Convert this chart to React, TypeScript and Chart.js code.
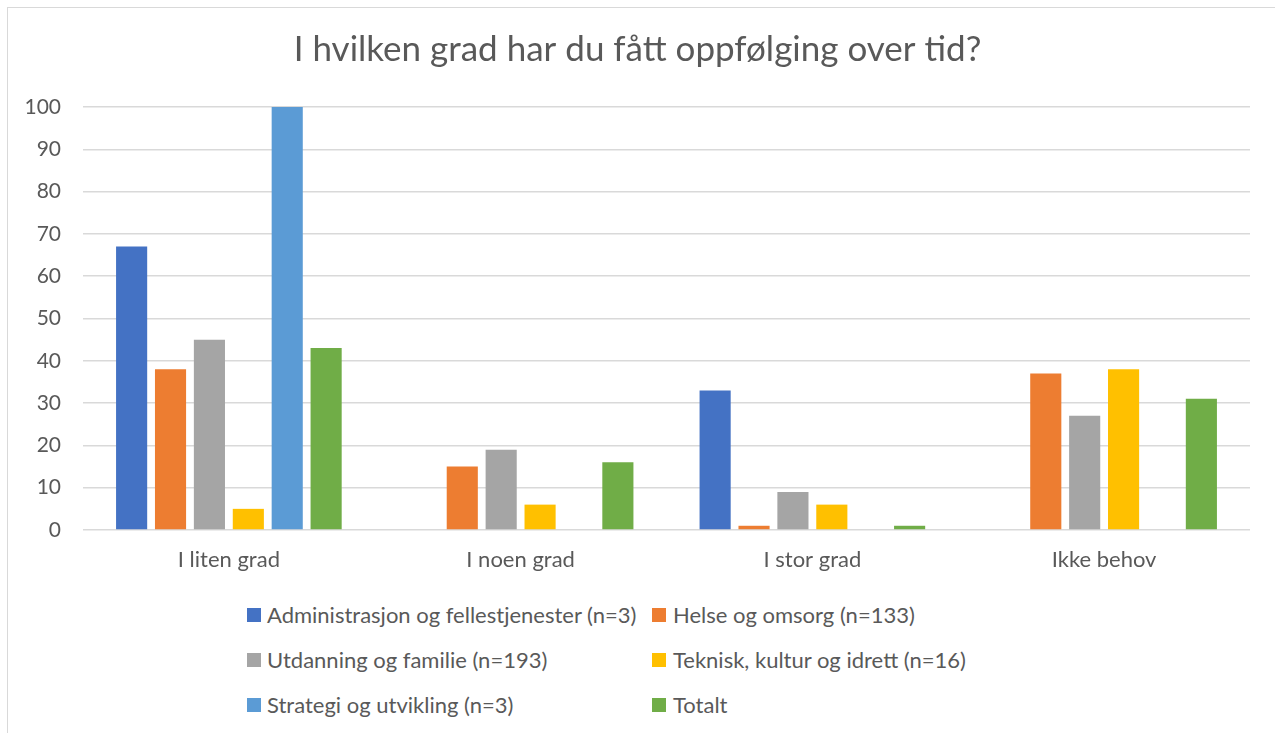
import React, { useEffect, useRef } from "react";
import { Chart, registerables } from "chart.js";

Chart.register(...registerables);

const title = "I hvilken grad har du fått oppfølging over tid?";
const categories = ["I liten grad", "I noen grad", "I stor grad", "Ikke behov"];
const seriesNames = [
  "Administrasjon og fellestjenester (n=3)",
  "Helse og omsorg (n=133)",
  "Utdanning og familie (n=193)",
  "Teknisk, kultur og idrett (n=16)",
  "Strategi og utvikling (n=3)",
  "Totalt",
];
const administrasjon = [67, 0, 33, 0];
const helse = [38, 15, 1, 37];
const utdanning = [45, 19, 9, 27];
const teknisk = [5, 6, 6, 38];
const strategi = [100, 0, 0, 0];
const totalt = [43, 16, 1, 31];
const seriesValues = [administrasjon, helse, utdanning, teknisk, strategi, totalt];
const seriesColors = ["#4472C4", "#ED7D31", "#A5A5A5", "#FFC000", "#5B9BD5", "#70AD47"];
const yMin = 0;
const yMax = 100;
const yStep = 10;

const FONT = "Lato, 'Open Sans', sans-serif";
const TEXT = "#595959";

export default function App() {
  const canvasRef = useRef<HTMLCanvasElement | null>(null);

  useEffect(() => {
    if (!canvasRef.current) return;
    const chart = new Chart(canvasRef.current, {
      type: "bar",
      data: {
        labels: categories,
        datasets: seriesNames.map((name, i) => ({
          label: name,
          data: seriesValues[i],
          backgroundColor: seriesColors[i],
          borderWidth: 0,
          categoryPercentage: 0.8,
          barPercentage: 0.8,
        })),
      },
      options: {
        animation: false,
        responsive: false,
        maintainAspectRatio: false,
        layout: { padding: { left: 17, right: 25, top: 0, bottom: 18 } },
        plugins: {
          legend: { display: false },
          tooltip: { enabled: false },
          title: {
            display: true,
            text: title,
            color: TEXT,
            font: { family: FONT, size: 35, weight: "normal" },
            padding: { top: 21, bottom: 36 },
          },
        },
        scales: {
          x: {
            grid: { display: false, drawTicks: false },
            border: { display: false },
            ticks: {
              color: TEXT,
              font: { family: FONT, size: 22 },
              padding: 17,
            },
            afterFit: (scale: any) => {
              scale.height = 44;
              scale.paddingLeft = 0;
              scale.paddingRight = 0;
            },
          },
          y: {
            min: yMin,
            max: yMax,
            grid: { color: "#d9d9d9", lineWidth: 1.5, drawTicks: false },
            border: { display: false },
            ticks: {
              stepSize: yStep,
              color: TEXT,
              font: { family: FONT, size: 21 },
              padding: 22,
            },
            afterFit: (scale: any) => {
              scale.width = 58;
              scale.paddingTop = 0;
              scale.paddingBottom = 0;
            },
          },
        },
      },
    });
    return () => chart.destroy();
  }, []);

  return (
    <div
      style={{
        position: "fixed",
        left: 7,
        top: 7,
        width: 1300,
        height: 760,
        border: "1px solid #d9d9d9",
        background: "#fff",
      }}
    >
      <canvas
        ref={canvasRef}
        width={1267}
        height={584}
        style={{ position: "absolute", left: 0, top: 0, width: 1267, height: 584 }}
      />
      <div
        style={{
          position: "absolute",
          left: 239,
          top: 584,
          display: "grid",
          gridTemplateColumns: "405px auto",
          gridAutoRows: "45px",
          fontFamily: FONT,
          fontSize: 22,
          color: TEXT,
        }}
      >
        {seriesNames.map((name, i) => (
          <div key={name} style={{ display: "flex", alignItems: "center", whiteSpace: "nowrap" }}>
            <span
              style={{
                display: "inline-block",
                width: 14,
                height: 14,
                background: seriesColors[i],
                marginRight: i % 2 === 0 ? 6 : 7,
              }}
            />
            <span>{name}</span>
          </div>
        ))}
      </div>
    </div>
  );
}
